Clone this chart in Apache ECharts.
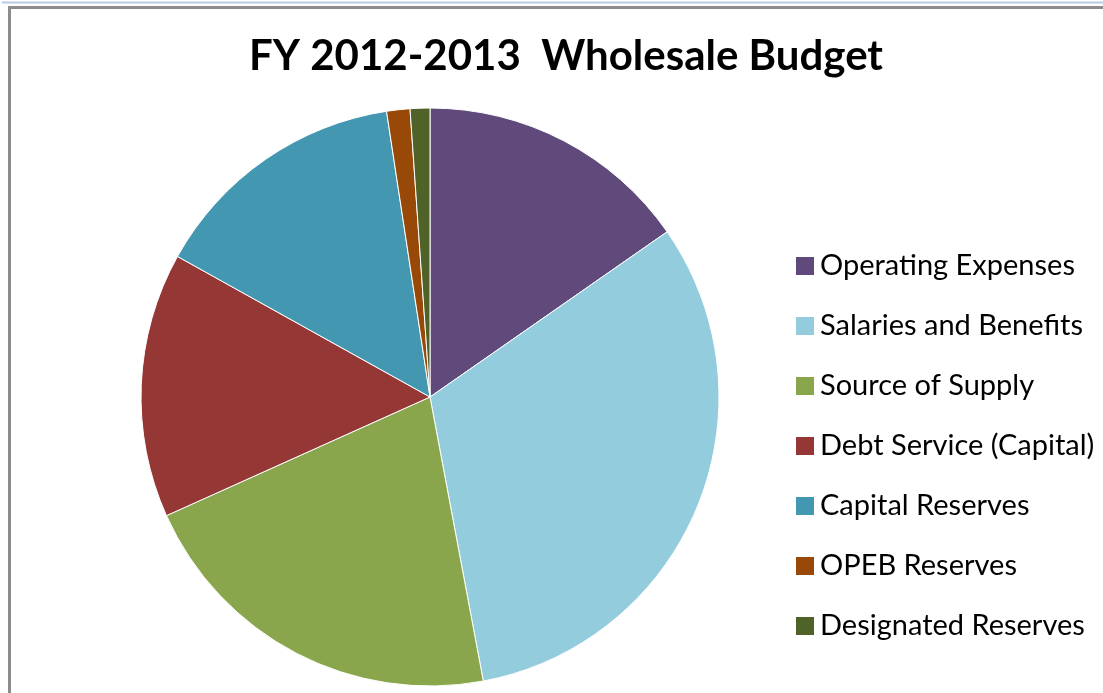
<!DOCTYPE html>
<html>
<head>
<meta charset="utf-8">
<script src="https://cdn.jsdelivr.net/npm/echarts@6/dist/echarts.min.js"></script>
<style>
html,body{margin:0;padding:0;background:#fff;}
#chart{width:1103px;height:693px;}
</style>
</head>
<body>
<div id="chart"></div>
<script>
const categories = ["Operating Expenses","Salaries and Benefits","Source of Supply","Debt Service (Capital)","Capital Reserves","OPEB Reserves","Designated Reserves"];
const values = [15.3, 31.7, 21.2, 14.8, 14.5, 1.3, 1.1];
const colors = ["#604A7B","#93CDDD","#8AA64D","#953735","#4397B0","#984807","#4F6228"];
const titleText = "FY 2012-2013  Wholesale Budget";

const chart = echarts.init(document.getElementById('chart'), null, {renderer:'canvas'});
chart.setOption({
  animation:false,
  backgroundColor:'#ffffff',
  color: colors,
  title:{
    text:titleText,
    left:561, top:30, textAlign:'center',
    textStyle:{fontFamily:'Lato', fontWeight:'bold', fontSize:42, color:'#000'}
  },
  legend:{
    orient:'vertical',
    left:789, top:246,
    itemWidth:20, itemHeight:20, itemGap:30,
    icon:'rect',
    data:categories,
    textStyle:{fontFamily:'Lato', fontSize:29, color:'#000', lineHeight:30, padding:[0,0,0,0]}
  },
  graphic:[
    {type:'line', shape:{x1:2,y1:2.5,x2:1103,y2:2.5}, style:{stroke:'#B8CCE4', lineWidth:2}},
    {type:'line', shape:{x1:8,y1:7.5,x2:1103,y2:7.5}, style:{stroke:'#8C8C8C', lineWidth:3}},
    {type:'line', shape:{x1:9.5,y1:7,x2:9.5,y2:693}, style:{stroke:'#8C8C8C', lineWidth:3}}
  ],
  series:[{
    type:'pie',
    center:[430,397],
    radius:289,
    startAngle:90,
    clockwise:true,
    label:{show:false},
    labelLine:{show:false},
    emphasis:{disabled:true},
    itemStyle:{borderColor:'#ffffff', borderWidth:1},
    data: categories.map((c,i)=>({name:c, value:values[i]}))
  }]
});
</script>
</body>
</html>
